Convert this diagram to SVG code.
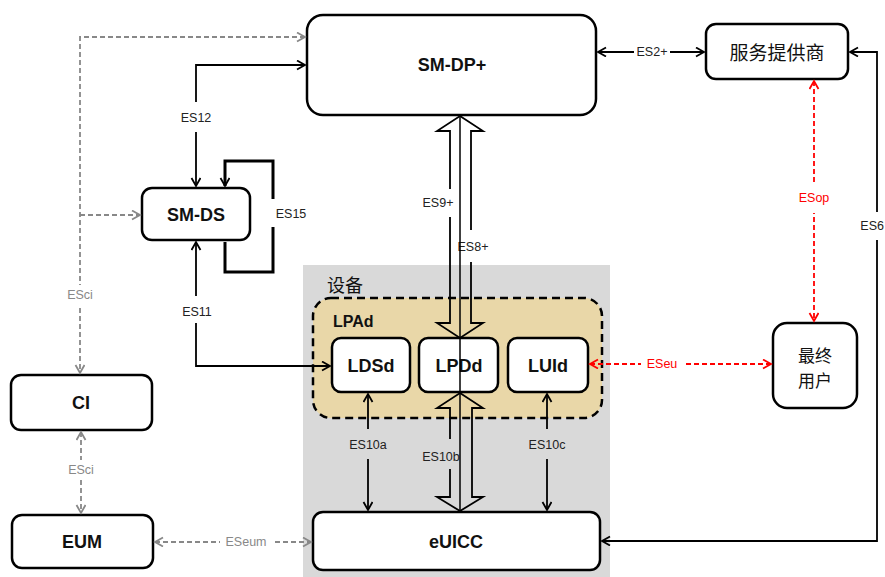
<svg xmlns="http://www.w3.org/2000/svg" width="885" height="577" viewBox="0 0 885 577">
<style>
.box{fill:#fff;stroke:#000;stroke-width:2.5}
.nt{font-family:"Liberation Sans",Arial,sans-serif;font-weight:bold;font-size:18px;fill:#111;text-anchor:middle;dominant-baseline:central}
.cn{font-family:"Noto Sans CJK SC","Noto Sans",sans-serif;font-size:18px;fill:#111;text-anchor:middle;dominant-baseline:central}
.ln{fill:none;stroke:#000;stroke-width:1.8}
.gl{fill:none;stroke:#888;stroke-width:1.8;stroke-dasharray:5,3}
.rl{fill:none;stroke:#f00;stroke-width:1.8;stroke-dasharray:5,3}
.lb{font-family:"Liberation Sans",Arial,sans-serif;font-size:12.5px;fill:#222;text-anchor:middle;dominant-baseline:central}
.lg{fill:#888}
.lr{fill:#f00}
.bgw{fill:#fff}
.bgg{fill:#d9d9d9}
</style>
<defs>
<marker id="ab" markerUnits="userSpaceOnUse" markerWidth="12" markerHeight="12" refX="9" refY="5" orient="auto-start-reverse"><path d="M1,0.5 L9,5 L1,9.5" fill="none" stroke="#000" stroke-width="1.8"/></marker>
<marker id="ag" markerUnits="userSpaceOnUse" markerWidth="12" markerHeight="12" refX="9" refY="5" orient="auto-start-reverse"><path d="M1,0.5 L9,5 L1,9.5" fill="none" stroke="#888" stroke-width="1.8"/></marker>
<marker id="ar" markerUnits="userSpaceOnUse" markerWidth="12" markerHeight="12" refX="9" refY="5" orient="auto-start-reverse"><path d="M1,0.5 L9,5 L1,9.5" fill="none" stroke="#f00" stroke-width="1.8"/></marker>
</defs>

<g id="device">
<rect x="303" y="265" width="307" height="312" fill="#d9d9d9"/>
<text x="327" y="284" class="cn" style="text-anchor:start">设备</text>
</g>
<g id="lpad">
<rect x="313" y="298" width="289" height="120" rx="18" fill="#e9d7a8" stroke="#000" stroke-width="2.5" stroke-dasharray="8,5"/>
<text x="333" y="321" class="nt" style="text-anchor:start;font-size:16px">LPAd</text>
</g>

<g id="smdp"><rect class="box" x="307" y="15" width="289" height="100" rx="16"/><text class="nt" x="452" y="65">SM-DP+</text></g>
<g id="sp"><rect class="box" x="706" y="24" width="142" height="55" rx="10"/><text class="cn" x="777" y="51" style="font-size:19px">服务提供商</text></g>
<g id="smds"><rect class="box" x="142" y="188" width="108" height="52" rx="10"/><text class="nt" x="196" y="215">SM-DS</text></g>
<g id="ci"><rect class="box" x="11" y="375" width="141" height="55" rx="10"/><text class="nt" x="81" y="403">CI</text></g>
<g id="eum"><rect class="box" x="12" y="515" width="141" height="53" rx="10"/><text class="nt" x="82" y="542">EUM</text></g>
<g id="enduser"><rect class="box" x="773" y="323" width="84" height="85" rx="14"/><text class="cn" x="815" y="354" style="font-size:17px">最终</text><text class="cn" x="815" y="379" style="font-size:17px">用户</text></g>
<g id="ldsd"><rect class="box" x="332" y="338" width="78" height="54" rx="9"/><text class="nt" x="371" y="366">LDSd</text></g>
<g id="lpdd"><rect class="box" x="419" y="338" width="79" height="54" rx="9"/><text class="nt" x="459" y="366">LPDd</text></g>
<g id="luid"><rect class="box" x="508" y="338" width="80" height="54" rx="9"/><text class="nt" x="548" y="366">LUId</text></g>
<g id="euicc"><rect class="box" x="313" y="512" width="287" height="58" rx="10"/><text class="nt" x="456" y="542">eUICC</text></g>

<g id="connectors">
<!-- ESci -->
<path class="gl" d="M305,37 H80 V373" marker-start="url(#ag)" marker-end="url(#ag)"/>
<path class="gl" d="M80,215 H140" marker-end="url(#ag)"/>
<rect class="bgw" x="64" y="285" width="32" height="20"/>
<text class="lb lg" x="80" y="295">ESci</text>
<path class="gl" d="M81,432 V513" marker-start="url(#ag)" marker-end="url(#ag)"/>
<rect class="bgw" x="65" y="460" width="32" height="20"/>
<text class="lb lg" x="81" y="470">ESci</text>
<!-- ESeum -->
<path class="gl" d="M155,542 H311" marker-start="url(#ag)" marker-end="url(#ag)"/>
<rect class="bgw" x="220" y="532" width="52" height="20"/>
<text class="lb lg" x="246" y="542">ESeum</text>
<!-- ES12 -->
<path class="ln" d="M196,186 V65 H305" marker-start="url(#ab)" marker-end="url(#ab)"/>
<rect class="bgw" x="177" y="102" width="38" height="30"/>
<text class="lb" x="196" y="118">ES12</text>
<!-- ES11 -->
<path class="ln" d="M196,242 V366 H330" marker-start="url(#ab)" marker-end="url(#ab)"/>
<rect class="bgw" x="177" y="296" width="38" height="27"/>
<text class="lb" x="197" y="312">ES11</text>
<!-- ES15 -->
<path d="M225,186 V161 H273 V272 H225 V242" fill="none" stroke="#000" stroke-width="3" marker-start="url(#ab)"/>
<rect class="bgw" x="270" y="199" width="40" height="28"/>
<text class="lb" x="291" y="214">ES15</text>
<!-- ES2+ -->
<path class="ln" d="M598,52 H704" marker-start="url(#ab)" marker-end="url(#ab)"/>
<rect class="bgw" x="634" y="44" width="36" height="16"/>
<text class="lb" x="652" y="52">ES2+</text>
<!-- ES6 -->
<path class="ln" d="M850,52 H877 V541 H602" marker-start="url(#ab)" marker-end="url(#ab)"/>
<rect class="bgw" x="862" y="212" width="23" height="28"/>
<text class="lb" x="884" y="226" style="text-anchor:end">ES6</text>
<!-- ESop -->
<path class="rl" d="M814,81 V321" marker-start="url(#ar)" marker-end="url(#ar)"/>
<rect class="bgw" x="795" y="183" width="38" height="30"/>
<text class="lb lr" x="814" y="198">ESop</text>
<!-- ESeu -->
<path class="rl" d="M590,364 H771" marker-start="url(#ar)" marker-end="url(#ar)"/>
<rect class="bgw" x="641" y="355" width="42" height="18"/>
<text class="lb lr" x="662" y="364">ESeu</text>
<!-- ES9+ hollow -->
<path d="M460,116 L483,131 L471,131 L471,323 L483,323 L460,338 L437,323 L450,323 L450,131 L437,131 Z" fill="none" stroke="#000" stroke-width="1.8"/>
<!-- ES10b hollow -->
<path d="M460,393 L483,408 L472,408 L472,497 L483,497 L460,511 L437,497 L450,497 L450,408 L437,408 Z" fill="none" stroke="#000" stroke-width="1.8"/>
<rect class="bgw" x="421" y="189" width="34" height="28"/>
<text class="lb" x="438" y="203">ES9+</text>
<rect class="bgw" x="455" y="230" width="36" height="32"/>
<text class="lb" x="473" y="247">ES8+</text>
<rect class="bgg" x="420" y="439" width="37" height="30"/>
<text class="lb" x="441" y="457">ES10b</text>
<!-- ES8+ thin -->
<path d="M460,116 V511" fill="none" stroke="#000" stroke-width="1.5"/>
<!-- ES10a / ES10c -->
<path class="ln" d="M368,394 V510" marker-start="url(#ab)" marker-end="url(#ab)"/>
<rect class="bgg" x="348" y="429" width="40" height="30"/>
<text class="lb" x="368" y="445">ES10a</text>
<path class="ln" d="M547,394 V510" marker-start="url(#ab)" marker-end="url(#ab)"/>
<rect class="bgg" x="527" y="429" width="40" height="30"/>
<text class="lb" x="547" y="445">ES10c</text>
</g>
</svg>
